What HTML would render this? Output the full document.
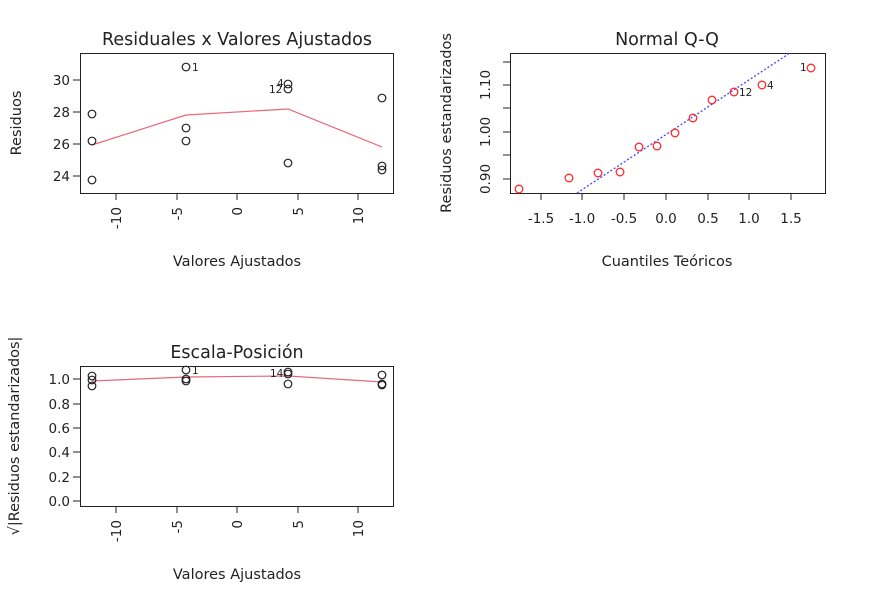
<!DOCTYPE html>
<html><head><meta charset="utf-8"><style>body{margin:0;background:#fff}text{font-family:"DejaVu Sans","Liberation Sans",sans-serif;fill:#222}</style></head><body>
<svg width="871" height="598" xmlns="http://www.w3.org/2000/svg">
<g fill="none" stroke="#222" stroke-width="1">
<rect x="80.5" y="53.5" width="313" height="140"/>
<rect x="510.5" y="53.5" width="315" height="140"/>
<rect x="80.5" y="366.5" width="313" height="140"/>
<path d="M116 193v7M177 193v7M237 193v7M298 193v7M358 193v7M116 506v7M177 506v7M237 506v7M298 506v7M358 506v7"/>
<path d="M80 80h-7M80 112h-7M80 144h-7M80 176h-7"/>
<path d="M80 379h-7M80 404h-7M80 428h-7M80 452h-7M80 477h-7M80 501h-7"/>
<path d="M541 193v7M582 193v7M624 193v7M666 193v7M708 193v7M749 193v7M791 193v7"/>
<path d="M510 62h-7M510 85h-7M510 108h-7M510 132h-7M510 155h-7M510 179h-7"/>
</g>
<g font-size="13.5" text-anchor="end">
<text x="70" y="85">30</text><text x="70" y="117">28</text><text x="70" y="149">26</text><text x="70" y="181">24</text>
<text x="70" y="384">1.0</text><text x="70" y="409">0.8</text><text x="70" y="433">0.6</text><text x="70" y="457">0.4</text><text x="70" y="482">0.2</text><text x="70" y="506">0.0</text>
</g>
<g font-size="13.5" text-anchor="middle">
<text transform="translate(490,85) rotate(-90)">1.10</text>
<text transform="translate(490,132) rotate(-90)">1.00</text>
<text transform="translate(490,179) rotate(-90)">0.90</text>
<text x="541" y="223">-1.5</text><text x="582" y="223">-1.0</text><text x="624" y="223">-0.5</text><text x="666" y="223">0.0</text><text x="708" y="223">0.5</text><text x="749" y="223">1.0</text><text x="791" y="223">1.5</text>
</g>
<g font-size="13.5" text-anchor="end">
<text transform="translate(121,207) rotate(-90)">-10</text>
<text transform="translate(182,207) rotate(-90)">-5</text>
<text transform="translate(242,207) rotate(-90)">0</text>
<text transform="translate(303,207) rotate(-90)">5</text>
<text transform="translate(363,207) rotate(-90)">10</text>
<text transform="translate(121,520) rotate(-90)">-10</text>
<text transform="translate(182,520) rotate(-90)">-5</text>
<text transform="translate(242,520) rotate(-90)">0</text>
<text transform="translate(303,520) rotate(-90)">5</text>
<text transform="translate(363,520) rotate(-90)">10</text>
</g>
<g font-size="17.5" text-anchor="middle">
<text x="237" y="45">Residuales x Valores Ajustados</text>
<text x="667" y="45">Normal Q-Q</text>
<text x="237" y="358">Escala-Posición</text>
</g>
<g font-size="14.5" text-anchor="middle">
<text x="237" y="266">Valores Ajustados</text>
<text x="667" y="266">Cuantiles Teóricos</text>
<text x="237" y="579">Valores Ajustados</text>
<text transform="translate(21,123) rotate(-90)">Residuos</text>
<text transform="translate(451,123) rotate(-90)">Residuos estandarizados</text>
<text transform="translate(19,436) rotate(-90)">√|Residuos estandarizados|</text>
</g>
<polyline points="92,145 186,115 288,109 382,147" fill="none" stroke="#e8677a" stroke-width="1.2"/>
<polyline points="92,381 186,377 288,376 382,382" fill="none" stroke="#e8677a" stroke-width="1.2"/>
<line x1="577" y1="193" x2="790" y2="53" stroke="#4444ff" stroke-width="1.3" stroke-dasharray="2,2"/>
<g fill="none" stroke="#222" stroke-width="1.2">
<circle cx="92" cy="114" r="3.8"/><circle cx="92" cy="141" r="3.8"/><circle cx="92" cy="180" r="3.8"/>
<circle cx="186" cy="67" r="3.8"/><circle cx="186" cy="128" r="3.8"/><circle cx="186" cy="141" r="3.8"/>
<circle cx="288" cy="84" r="3.8"/><circle cx="288" cy="89" r="3.8"/><circle cx="288" cy="163" r="3.8"/>
<circle cx="382" cy="98" r="3.8"/><circle cx="382" cy="166" r="3.8"/><circle cx="382" cy="170" r="3.8"/>
<circle cx="92" cy="376" r="3.8"/><circle cx="92" cy="380" r="3.8"/><circle cx="92" cy="386" r="3.8"/>
<circle cx="186" cy="370" r="3.8"/><circle cx="186" cy="379" r="3.8"/><circle cx="186" cy="381" r="3.8"/>
<circle cx="288" cy="372" r="3.8"/><circle cx="288" cy="374" r="3.8"/><circle cx="288" cy="384" r="3.8"/>
<circle cx="382" cy="375" r="3.8"/><circle cx="382" cy="384" r="3.8"/><circle cx="382" cy="385" r="3.8"/>
</g>
<g fill="none" stroke="#ff2a2a" stroke-width="1.3">
<circle cx="519" cy="189" r="3.8"/><circle cx="569" cy="178" r="3.8"/><circle cx="598" cy="173" r="3.8"/><circle cx="620" cy="172" r="3.8"/>
<circle cx="639" cy="147" r="3.8"/><circle cx="657" cy="146" r="3.8"/><circle cx="675" cy="133" r="3.8"/><circle cx="693" cy="118" r="3.8"/>
<circle cx="712" cy="100" r="3.8"/><circle cx="734" cy="92" r="3.8"/><circle cx="762" cy="85" r="3.8"/><circle cx="811" cy="68" r="3.8"/>
</g>
<g font-size="10.5">
<text x="192" y="71">1</text><text x="277" y="87">4</text><text x="269" y="93">12</text>
<text x="192" y="374">1</text><text x="270" y="377">14</text>
<text x="800" y="71">1</text><text x="739" y="96">12</text><text x="767" y="89">4</text>
</g>
</svg>
</body></html>
